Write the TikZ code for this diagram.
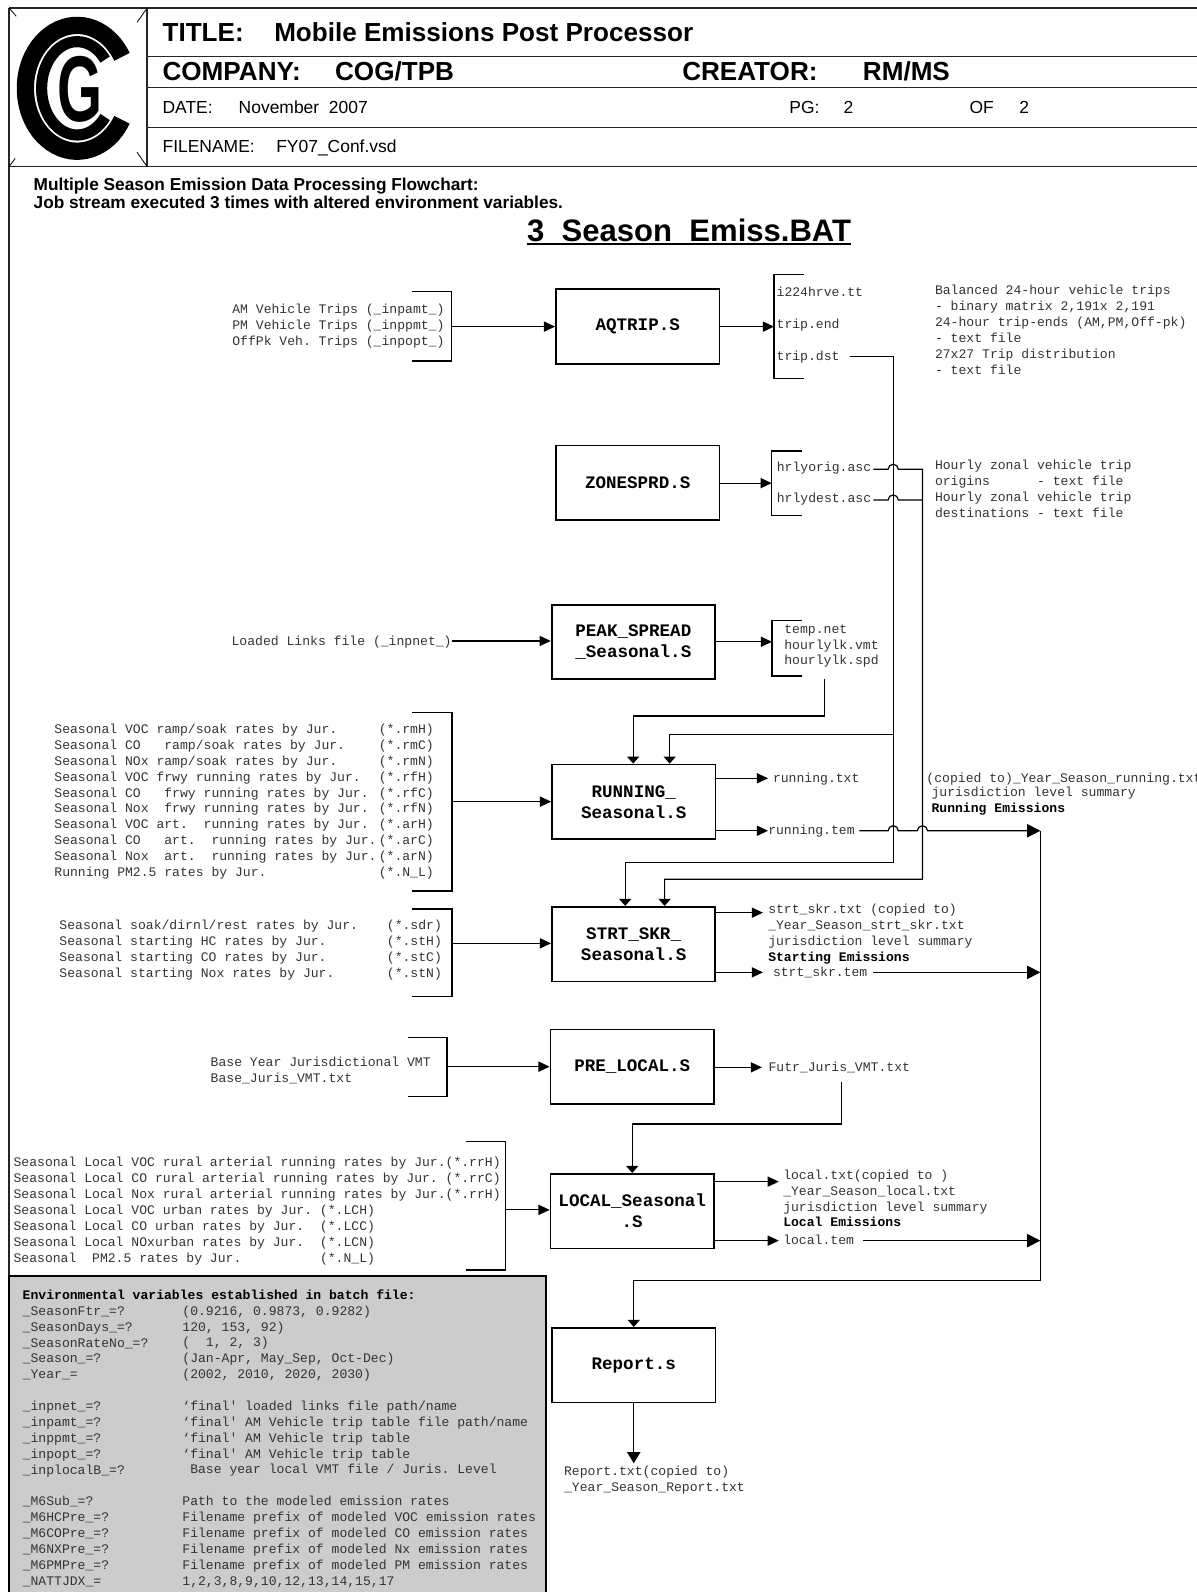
\documentclass[tikz,border=0pt]{standalone}
\usepackage{fontspec}
\setmainfont{Liberation Sans}
\newfontfamily\arialf{Liberation Sans}
\newfontfamily\courf{Liberation Mono}
\usetikzlibrary{arrows.meta}
\newcommand\bk[1]{\textcolor{black}{\bfseries #1}}
\begin{document}
\begin{tikzpicture}[x=1pt,y=-1pt,
  mono/.style={font=\courf\fontsize{12.9}{15.64}\selectfont\frenchspacing, inner sep=0pt, anchor=north west, align=left, text=black!80, execute at begin node=\strut},
  proc/.style={draw, line width=1.8pt, inner sep=0pt, font=\courf\bfseries\fontsize{17.3}{20.7}\selectfont, align=center, minimum width=161pt, minimum height=73.5pt},
  conn/.style={line width=1.2pt},
  arr/.style={conn, -{Triangle[length=11pt,width=10pt]}},
  arrbig/.style={conn, -{Triangle[length=13pt,width=13pt]}},
  arrflat/.style={conn, -{Triangle[length=7pt,width=12pt]}},
  arrrep/.style={conn, -{Triangle[length=11pt,width=13pt]}},
  brk/.style={line width=1.2pt},
  rule/.style={line width=1.4pt, black!85},
  hdrB/.style={font=\arialf\bfseries\fontsize{25.7}{30}\selectfont, inner sep=0pt, anchor=base west},
  hdr/.style={font=\arialf\fontsize{17.2}{20}\selectfont, inner sep=0pt, anchor=base west},
  note/.style={font=\arialf\bfseries\fontsize{17}{20}\selectfont, inner sep=0pt, anchor=base west},
]
\useasboundingbox (0,0) rectangle (1179.3,1568.5);

% ---------- frame and header ----------
\draw[rule] (9,7.9) -- (1190,7.9);
\draw[rule] (9,7.9) -- (9,1600);
\draw[rule] (145,7.9) -- (145,164.2);
\draw[rule] (145,55.8) -- (1190,55.8);
\draw[rule] (145,86.4) -- (1190,86.4);
\draw[rule] (145,125.8) -- (1190,125.8);
\draw[rule] (9,164.2) -- (1190,164.2);
% corner ticks of the logo frame
\draw[line width=0.8pt] (9,7.9) -- (16,16);
\draw[line width=0.8pt] (145,7.9) -- (135,22);
\draw[line width=0.8pt] (135,150) -- (145,164.2);
\draw[line width=0.8pt] (9,164.2) -- (15,156);
% logo
\coordinate (lg) at (76,87);
\draw[line width=17pt] (lg) ++(30:51 and 62) arc[start angle=30,end angle=330,x radius=51,y radius=62];
\draw[line width=11pt] (lg) ++(38:35 and 46) arc[start angle=38,end angle=322,x radius=35,y radius=46];
\node[font=\arialf\bfseries\fontsize{92}{92}\selectfont, inner sep=0pt] (logoG) at (79,88) {\scalebox{0.62}[1]{G}};

\node[hdrB] (t1) at (160,41.1) {TITLE:};
\node[hdrB] (t2) at (270,41.1) {Mobile Emissions Post Processor};
\node[hdrB] (c1) at (160,79.8) {COMPANY:};
\node[hdrB] (c2) at (330,79.8) {COG/TPB};
\node[hdrB] (c3) at (672,79.8) {CREATOR:};
\node[hdrB] (c4) at (850,79.8) {RM/MS};
\node[hdr] (d1) at (160,111.5) {DATE:};
\node[hdr] (d2) at (235,111.5) {November~ 2007};
\node[hdr] (d3) at (777.6,111.5) {PG:};
\node[hdr] (d4) at (831,111.5) {2};
\node[hdr] (d5) at (955,111.5) {OF};
\node[hdr] (d6) at (1004,111.5) {2};
\node[hdr] (f1) at (160,150.2) {FILENAME:};
\node[hdr] (f2) at (272,150.2) {FY07\_Conf.vsd};
\node[note] (n1) at (33,187.4) {Multiple Season Emission Data Processing Flowchart:};
\node[note] (n2) at (33,205.4) {Job stream executed 3 times with altered environment variables.};
\node[font=\arialf\bfseries\fontsize{30.6}{34}\selectfont, inner sep=0pt, anchor=base west] (bat) at (519.2,237.6) {3\ \ Season\ \ Emiss.BAT};
\draw[line width=2.4pt] ([yshift=-3pt]bat.base west) -- ([yshift=-3pt]bat.base east);

% ---------- process boxes ----------
\node[proc] (aq) at (628.3,321.8) {AQTRIP.S};
\node[proc] (zone) at (628.3,475.7) {ZONESPRD.S};
\node[proc] (peak) at (624,632.5) {PEAK\_SPREAD\\\_Seasonal.S};
\node[proc] (run) at (624.4,790) {RUNNING\_\\Seasonal.S};
\node[proc] (strt) at (624.3,930.2) {STRT\_SKR\_\\Seasonal.S};
\node[proc] (pre) at (622.9,1051) {PRE\_LOCAL.S};
\node[proc] (local) at (622.9,1193.3) {LOCAL\_Seasonal\\.S};
\node[proc] (rep) at (624.4,1345) {Report.s};

% ---------- AQTRIP ----------
\node[mono] (aqin) at (228.7,299.4) {AM Vehicle Trips (\_inpamt\_)\\PM Vehicle Trips (\_inppmt\_)\\OffPk Veh. Trips (\_inpopt\_)};
\draw[brk] (406,287) -- (445,287) -- (445,355.7) -- (406,355.7);
\coordinate (aqinM) at (445,321.8);
\draw[arr] (aqinM) -- (aqinM -| aq.west);
\coordinate (aqoM) at (762.6,321.8);
\draw[arr] (aq.east) -- (aqoM);
\draw[brk] (792,270.3) -- (762.6,270.3) -- (762.6,372.7) -- (792,372.7);
\node[mono] (aqo1) at (765,281) {i224hrve.tt};
\node[mono] (aqo2) at (765,312.2) {trip.end};
\node[mono] (aqo3) at (765,343.7) {trip.dst};
\node[mono] (aqdesc) at (921,281) {Balanced 24-hour vehicle trips\\- binary matrix 2,191x 2,191\\24-hour trip-ends (AM,PM,Off-pk)\\- text file\\27x27 Trip distribution\\- text file};

% ---------- ZONESPRD ----------
\coordinate (zoM) at (760.3,476);
\draw[arr] (zoM -| zone.east) -- (zoM);
\draw[brk] (789.8,444.3) -- (760.3,444.3) -- (760.3,508) -- (789.8,508);
\node[mono] (zo1) at (765.2,453.4) {hrlyorig.asc};
\node[mono] (zo2) at (765.2,484) {hrlydest.asc};
\node[mono] (zdesc) at (921,453.4) {Hourly zonal vehicle trip\\origins~~~~~~- text file\\Hourly zonal vehicle trip\\destinations - text file};

% ---------- PEAK_SPREAD ----------
\node[mono] (pkin) at (228,624.5) {Loaded Links file (\_inpnet\_)};
\coordinate (pkinM) at (445,631.5);
\draw[arr] (pkinM) -- (pkinM -| peak.west);
\coordinate (pkoM) at (760.6,632.3);
\draw[arr] (pkoM -| peak.east) -- (pkoM);
\draw[brk] (790,611) -- (760.6,611) -- (760.6,666) -- (790,666);
\node[mono] (pko) at (772.6,615) {temp.net\\hourlylk.vmt\\hourlylk.spd};

% ---------- RUNNING ----------
\node[mono] (runin) at (53.4,713.2) {Seasonal VOC ramp/soak rates by Jur.\\Seasonal CO~~~ramp/soak rates by Jur.\\Seasonal NOx ramp/soak rates by Jur.\\Seasonal VOC frwy running rates by Jur.\\Seasonal CO~~~frwy running rates by Jur.\\Seasonal Nox~~frwy running rates by Jur.\\Seasonal VOC art.~~running rates by Jur.\\Seasonal CO~~~art.~~running rates by Jur.\\Seasonal Nox~~art.~~running rates by Jur.\\Running PM2.5 rates by Jur.};
\node[mono] (runinp) at (373,713.2) {(*.rmH)\\(*.rmC)\\(*.rmN)\\(*.rfH)\\(*.rfC)\\(*.rfN)\\(*.arH)\\(*.arC)\\(*.arN)\\(*.N\_L)};
\draw[brk] (406.3,701.8) -- (445.3,701.8) -- (445.3,877.8) -- (406.3,877.8);
\coordinate (runinM) at (445.3,789.8);
\draw[arr] (runinM) -- (runinM -| run.west);
\coordinate (runo1A) at (756.7,766.8);
\draw[arr] (runo1A -| run.east) -- (runo1A);
\coordinate (runo2A) at (756.7,818.5);
\draw[arr] (runo2A -| run.east) -- (runo2A);
\node[mono] (runo1) at (761.4,759.8) {running.txt};
\node[mono] (runo2) at (756.7,811) {running.tem};
\node[mono] (runm1) at (912.6,759.8) {(copied to)\_Year\_Season\_running.txt};
\node[mono] (runm2) at (917.6,775.6) {jurisdiction level summary\\\bk{Running Emissions}};

% ---------- STRT_SKR ----------
\node[mono] (stin) at (58.4,906.6) {Seasonal soak/dirnl/rest rates by Jur.\\Seasonal starting HC rates by Jur.\\Seasonal starting CO rates by Jur.\\Seasonal starting Nox rates by Jur.};
\node[mono] (stinp) at (381,906.6) {(*.sdr)\\(*.stH)\\(*.stC)\\(*.stN)};
\draw[brk] (406.3,895.6) -- (445.3,895.6) -- (445.3,982) -- (406.3,982);
\coordinate (stinM) at (445.3,929.4);
\draw[arr] (stinM) -- (stinM -| strt.west);
\coordinate (sto1A) at (751.7,899.2);
\draw[arr] (sto1A -| strt.east) -- (sto1A);
\coordinate (sto2A) at (751.7,958);
\draw[arr] (sto2A -| strt.east) -- (sto2A);
\node[mono] (sto1) at (756.7,890.5) {strt\_skr.txt (copied to)\\\_Year\_Season\_strt\_skr.txt\\jurisdiction level summary\\\bk{Starting Emissions}};
\node[mono] (sto2) at (761.4,951) {strt\_skr.tem};

% ---------- PRE_LOCAL ----------
\node[mono] (prein) at (207.4,1041.3) {Base Year Jurisdictional VMT\\Base\_Juris\_VMT.txt};
\draw[brk] (401.6,1022) -- (440.4,1022) -- (440.4,1080.5) -- (401.6,1080.5);
\coordinate (preinM) at (440.4,1050.9);
\draw[arr] (preinM) -- (preinM -| pre.west);
\coordinate (preoA) at (750.7,1051.6);
\draw[arr] (preoA -| pre.east) -- (preoA);
\node[mono] (preo) at (757,1044.6) {Futr\_Juris\_VMT.txt};

% ---------- LOCAL ----------
\node[mono] (lcin) at (13.2,1140) {Seasonal Local VOC rural arterial running rates by Jur.(*.rrH)\\Seasonal Local CO rural arterial running rates by Jur. (*.rrC)\\Seasonal Local Nox rural arterial running rates by Jur.(*.rrH)\\Seasonal Local VOC urban rates by Jur. (*.LCH)\\Seasonal Local CO urban rates by Jur.~~(*.LCC)\\Seasonal Local NOxurban rates by Jur.~~(*.LCN)\\Seasonal~~PM2.5 rates by Jur.~~~~~~~~~~(*.N\_L)};
\draw[brk] (459,1124.8) -- (497.7,1124.8) -- (497.7,1251.2) -- (459,1251.2);
\coordinate (lcinM) at (497.7,1192);
\draw[arr] (lcinM) -- (lcinM -| local.west);
\coordinate (lco1A) at (767.3,1164.2);
\draw[arr] (lco1A -| local.east) -- (lco1A);
\coordinate (lco2A) at (767.3,1222.3);
\draw[arr] (lco2A -| local.east) -- (lco2A);
\node[mono] (lco1) at (771.5,1152.3) {local.txt(copied to )\\\_Year\_Season\_local.txt\\jurisdiction level summary\\\bk{Local Emissions}};
\node[mono] (lco2) at (771.5,1215.3) {local.tem};

% ---------- Report ----------
\coordinate (repA) at (624.4,1441.7);
\draw[arrrep] (rep.south) -- (repA);
\node[mono] (repo) at (555.6,1444) {Report.txt(copied to)\\\_Year\_Season\_Report.txt};

% ---------- long connectors ----------
\coordinate (td0) at (837.4,351.4);
\coordinate (vA1) at (880,351.4);
\coordinate (vA2) at (880,723.5);
\coordinate (vA3) at (880,850);
\coordinate (rA) at (659.8,723.5);
\coordinate (sA) at (616,850);
\draw[arrflat] (td0) -- (vA1) -- (vA3) -- (sA) -- (sA |- strt.north);
\draw[arrflat] (vA2) -- (rA) -- (rA |- run.north);

\coordinate (ho0) at (860.4,462.4);
\coordinate (vB1) at (908.8,462.4);
\coordinate (hd0) at (860.4,492.6);
\coordinate (vB2) at (908.8,492.6);
\coordinate (vB3) at (908.8,866.3);
\coordinate (sB) at (654.8,866.3);
\draw[arrflat] (ho0) -- ++(14.6,0) arc[start angle=180,end angle=360,radius=5] -- (vB1) -- (vB3) -- (sB) -- (sB |- strt.north);
\draw[conn] (hd0) -- ++(14.6,0) arc[start angle=180,end angle=360,radius=5] -- (vB2);

\coordinate (hs0) at (812.2,669.3);
\coordinate (hs1) at (812.2,705.5);
\coordinate (rS) at (623.8,705.5);
\draw[arrflat] (hs0) -- (hs1) -- (rS) -- (rS |- run.north);

\coordinate (rt0) at (846.7,818.5);
\coordinate (vC1) at (1025,818.5);
\coordinate (vC2) at (1025,1261.7);
\coordinate (rR) at (624.4,1261.7);
\draw[arrbig] (rt0) -- ++(28.3,0) arc[start angle=180,end angle=360,radius=5] -- ++(18.8,0) arc[start angle=180,end angle=360,radius=5] -- (vC1);
\draw[arrflat] (vC1) -- (vC2) -- (rR) -- (rR |- rep.north);
\coordinate (st0) at (860.3,958);
\draw[arrbig] (st0) -- (st0 -| vC1);
\coordinate (lt0) at (850.6,1222.3);
\draw[arrbig] (lt0) -- (lt0 -| vC1);

\coordinate (fu0) at (829,1065.7);
\coordinate (fu1) at (829,1107.4);
\coordinate (lF) at (622.9,1107.4);
\draw[arrflat] (fu0) -- (fu1) -- (lF) -- (lF |- local.north);

% ---------- environment box ----------
\draw[line width=1.8pt, fill=black!20] (9,1256.8) rectangle (538.3,1620);
\node[mono] (envL) at (22.2,1270.5) {\bk{Environmental variables established in batch file:}\\\_SeasonFtr\_=?\\\_SeasonDays\_=?\\\_SeasonRateNo\_=?\\\_Season\_=?\\\_Year\_=\\\mbox{}\\\_inpnet\_=?\\\_inpamt\_=?\\\_inppmt\_=?\\\_inpopt\_=?\\\_inplocalB\_=?\\\mbox{}\\\_M6Sub\_=?\\\_M6HCPre\_=?\\\_M6COPre\_=?\\\_M6NXPre\_=?\\\_M6PMPre\_=?\\\_NATTJDX\_=};
\node[mono] (envR) at (179.5,1286.2) {(0.9216, 0.9873, 0.9282)\\120, 153, 92)\\(~~1, 2, 3)\\(Jan-Apr, May\_Sep, Oct-Dec)\\(2002, 2010, 2020, 2030)\\\mbox{}\\‘final' loaded links file path/name\\‘final' AM Vehicle trip table file path/name\\‘final' AM Vehicle trip table\\‘final' AM Vehicle trip table\\~Base year local VMT file / Juris. Level\\\mbox{}\\Path to the modeled emission rates\\Filename prefix of modeled VOC emission rates\\Filename prefix of modeled CO emission rates\\Filename prefix of modeled Nx emission rates\\Filename prefix of modeled PM emission rates\\1,2,3,8,9,10,12,13,14,15,17};
\end{tikzpicture}
\end{document}
